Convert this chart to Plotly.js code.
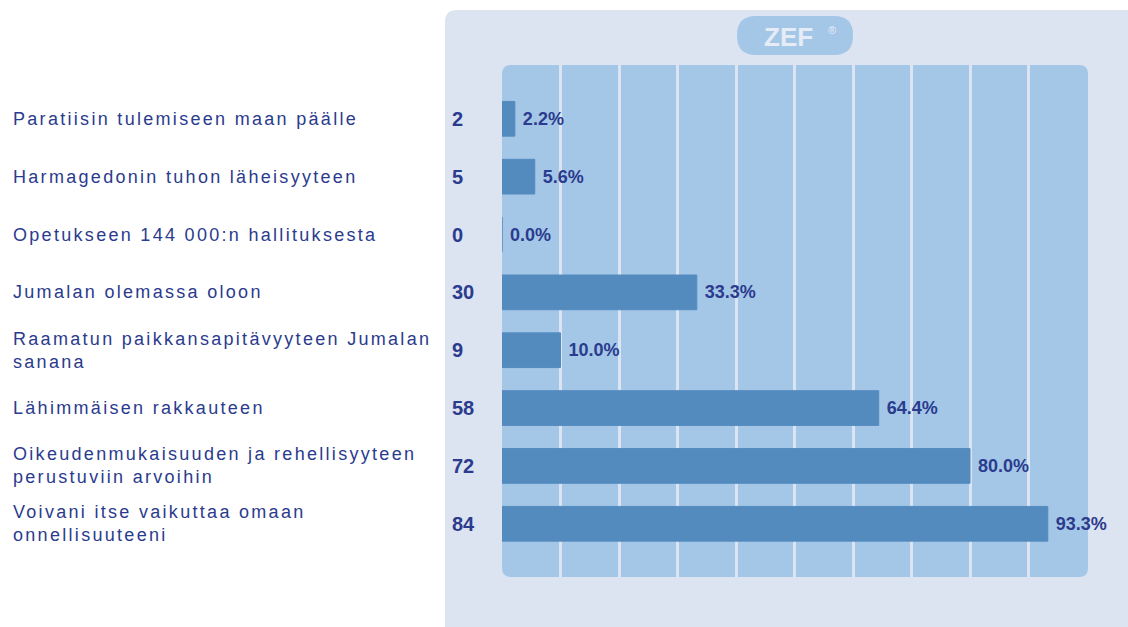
<!DOCTYPE html>
<html><head><meta charset="utf-8">
<script src="https://cdn.plot.ly/plotly-3.0.1.min.js"></script>
<style>html,body{margin:0;padding:0;background:#fff;}#chart{width:1128px;height:627px;}</style>
</head><body><div id="chart"></div>
<script>
const categories = [
  "Paratiisin tulemiseen maan päälle",
  "Harmagedonin tuhon läheisyyteen",
  "Opetukseen 144 000:n hallituksesta",
  "Jumalan olemassa oloon",
  "Raamatun paikkansapitävyyteen Jumalan<br>sanana",
  "Lähimmäisen rakkauteen",
  "Oikeudenmukaisuuden ja rehellisyyteen<br>perustuviin arvoihin",
  "Voivani itse vaikuttaa omaan<br>onnellisuuteeni"
];
const counts = [2, 5, 0, 30, 9, 58, 72, 84];
const percents = [2.2, 5.6, 0.0, 33.3, 10.0, 64.4, 80.0, 93.3];
const gridTicks = [10, 20, 30, 40, 50, 60, 70, 80, 90];
const logoText = "ZEF";

const W = 1128, H = 627;
const L = 502, R = 1087, T = 65, B = 577;
const px = x => (x - L) / (R - L);
const py = y => (B - y) / (B - T);
function roundRect(x0, y0, x1, y1, r) {
  const p = (x, y) => px(x).toFixed(5) + ',' + py(y).toFixed(5);
  return 'M' + p(x0 + r, y0) + ' L' + p(x1 - r, y0) + ' Q' + p(x1, y0) + ' ' + p(x1, y0 + r) +
    ' L' + p(x1, y1 - r) + ' Q' + p(x1, y1) + ' ' + p(x1 - r, y1) +
    ' L' + p(x0 + r, y1) + ' Q' + p(x0, y1) + ' ' + p(x0, y1 - r) +
    ' L' + p(x0, y0 + r) + ' Q' + p(x0, y0) + ' ' + p(x0 + r, y0) + ' Z';
}
function outerPanel(x0, y0, x1, y1, r) {
  const p = (x, y) => px(x).toFixed(5) + ',' + py(y).toFixed(5);
  return 'M' + p(x0 + r, y0) + ' L' + p(x1, y0) + ' L' + p(x1, y1) + ' L' + p(x0, y1) +
    ' L' + p(x0, y0 + r) + ' Q' + p(x0, y0) + ' ' + p(x0 + r, y0) + ' Z';
}
const spaced = s => s.split('<br>').map(t => '<span style="letter-spacing:2.3px">' + t + '</span>').join('<br>');

const textColor = '#2b3b8d';
const yIdx = categories.map((c, i) => i);

const trace = {
  type: 'bar', orientation: 'h',
  x: percents, y: yIdx,
  width: 0.6,
  marker: {color: '#548bbf', line: {width: 1, color: '#548bbf'}},
  text: percents.map(v => '\u00a0' + v.toFixed(1) + '%'),
  textposition: 'outside',
  cliponaxis: false,
  textfont: {family: 'Liberation Sans, Arial', size: 18, color: textColor, weight: 'bold'},
  hoverinfo: 'none'
};

const annotations = [];
categories.forEach((c, i) => {
  annotations.push({xref: 'paper', yref: 'y', x: px(11), y: i, text: spaced(c), showarrow: false,
    xanchor: 'left', yanchor: 'middle', align: 'left',
    font: {family: 'Liberation Sans, Arial', size: 18, color: textColor}});
});
counts.forEach((v, i) => {
  annotations.push({xref: 'paper', yref: 'y', x: px(450), y: i, text: '<b>' + v + '</b>', showarrow: false,
    xanchor: 'left', yanchor: 'middle', align: 'left',
    font: {family: 'Liberation Sans, Arial', size: 20, color: textColor}});
});
annotations.push({xref: 'paper', yref: 'paper', x: px(788), y: py(37), text: '<b>' + logoText + '</b>', showarrow: false,
  xanchor: 'center', yanchor: 'middle',
  font: {family: 'Liberation Sans, Arial', size: 26, color: '#e6ecf6'}});
annotations.push({xref: 'paper', yref: 'paper', x: px(832), y: py(30), text: '®', showarrow: false,
  xanchor: 'center', yanchor: 'middle',
  font: {family: 'Liberation Sans, Arial', size: 11, color: '#e6ecf6'}});

const shapes = [
  {type: 'path', xref: 'paper', yref: 'paper', path: outerPanel(445, 10, 1140, 640, 12),
    fillcolor: '#dce3f1', line: {width: 0}, layer: 'below'},
  {type: 'path', xref: 'paper', yref: 'paper', path: roundRect(502, 65, 1088, 577, 9),
    fillcolor: '#a4c7e8', line: {width: 0}, layer: 'below'},
  {type: 'path', xref: 'paper', yref: 'paper', path: roundRect(737, 16, 853, 55, 19),
    fillcolor: '#a4c7e8', line: {width: 0}, layer: 'below'}
];

const layout = {
  width: W, height: H,
  margin: {l: L, r: W - R, t: T, b: H - B, pad: 0},
  paper_bgcolor: '#ffffff', plot_bgcolor: 'rgba(0,0,0,0)',
  showlegend: false,
  xaxis: {range: [0, 100], tickvals: gridTicks, showticklabels: false, showgrid: true,
    gridcolor: '#dde4f1', gridwidth: 3, zeroline: false, showline: false, ticks: '', fixedrange: true},
  yaxis: {range: [7.92, -0.93], showticklabels: false, showgrid: false, zeroline: false,
    showline: false, ticks: '', fixedrange: true},
  shapes: shapes,
  annotations: annotations,
  bargap: 0.4
};

Plotly.newPlot('chart', [trace], layout, {displayModeBar: false, staticPlot: true});
</script>
</body></html>
